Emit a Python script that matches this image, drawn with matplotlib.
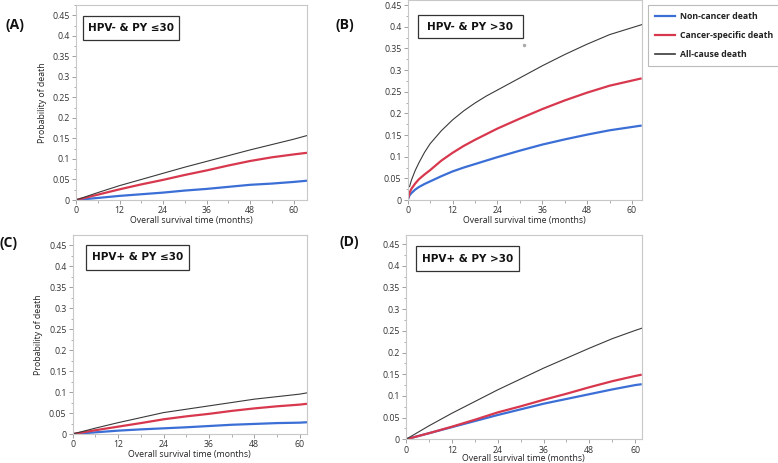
import numpy as np
import matplotlib.pyplot as plt
from matplotlib.lines import Line2D
from matplotlib.patches import Rectangle
from matplotlib.ticker import MultipleLocator, FuncFormatter

plt.rcParams['font.family'] = ['Open Sans', 'DejaVu Sans']

# ---- data ----
series_names = ['Non-cancer death', 'Cancer-specific death', 'All-cause death']

# (A) HPV- & PY <=30
a_months = [0, 6, 12, 18, 24, 30, 36, 42, 48, 54, 60, 63.7]
a_noncancer = [0, 0.005, 0.010, 0.014, 0.018, 0.023, 0.027, 0.032, 0.037, 0.040, 0.044, 0.047]
a_cancer = [0, 0.013, 0.026, 0.038, 0.049, 0.061, 0.072, 0.084, 0.095, 0.104, 0.111, 0.115]
a_allcause = [0, 0.018, 0.035, 0.050, 0.065, 0.080, 0.094, 0.108, 0.122, 0.135, 0.148, 0.157]

# (B) HPV- & PY >30
b_months = [0, 0.5, 1, 2, 3, 4.5, 6, 9, 12, 15, 18, 21, 24, 30, 36, 42, 48, 54, 62.6]
b_noncancer = [0, 0.011, 0.016, 0.024, 0.030, 0.037, 0.043, 0.055, 0.066, 0.075, 0.083,
               0.091, 0.099, 0.114, 0.128, 0.140, 0.151, 0.161, 0.172]
b_cancer = [0, 0.017, 0.026, 0.038, 0.048, 0.059, 0.069, 0.091, 0.109, 0.125, 0.139,
            0.152, 0.165, 0.188, 0.210, 0.230, 0.248, 0.264, 0.281]
b_all_months = [0.5, 1, 2, 3, 4.5, 6, 9, 12, 15, 18, 21, 24, 30, 36, 42, 48, 54, 62.6]
b_allcause = [0.031, 0.046, 0.068, 0.086, 0.110, 0.130, 0.160, 0.185, 0.206, 0.224,
              0.240, 0.254, 0.282, 0.310, 0.336, 0.360, 0.382, 0.405]

# (C) HPV+ & PY <=30
c_months = [0, 6, 12, 18, 24, 30, 36, 42, 48, 54, 60, 61.9]
c_noncancer = [0, 0.004, 0.008, 0.011, 0.0135, 0.016, 0.019, 0.022, 0.024, 0.026, 0.027, 0.028]
c_cancer = [0, 0.009, 0.0175, 0.026, 0.035, 0.042, 0.048, 0.055, 0.061, 0.066, 0.070, 0.072]
c_allcause = [0, 0.014, 0.027, 0.039, 0.051, 0.059, 0.067, 0.075, 0.083, 0.089, 0.095, 0.098]

# (D) HPV+ & PY >30
d_months = [0, 6, 12, 18, 24, 30, 36, 42, 48, 54, 60, 61.7]
d_noncancer = [0, 0.014, 0.028, 0.042, 0.056, 0.069, 0.082, 0.093, 0.104, 0.115, 0.125, 0.127]
d_cancer = [0, 0.014, 0.029, 0.045, 0.062, 0.076, 0.091, 0.105, 0.120, 0.134, 0.146, 0.149]
d_allcause = [0, 0.031, 0.060, 0.087, 0.114, 0.139, 0.164, 0.187, 0.210, 0.232, 0.251, 0.256]

panel_titles = ['HPV- & PY \u226430', 'HPV- & PY >30', 'HPV+ & PY \u226430', 'HPV+ & PY >30']
panel_tags = ['(A)', '(B)', '(C)', '(D)']

BLUE = '#3b6fd6'
RED = '#d8384e'
BLACK = '#3a3a3a'
W, H = 778, 463

fig = plt.figure(figsize=(W / 100, H / 100), dpi=100)


def px_axes(left, right, top, bottom):
    return fig.add_axes([left / W, 1 - bottom / H, (right - left) / W, (bottom - top) / H])


def fmt(v, pos):
    if abs(v) < 1e-9:
        return '0'
    return ('%.2f' % v).rstrip('0')


def style(ax, xmax, ymax, ylabel):
    ax.set_xlim(0, xmax)
    ax.set_ylim(0, ymax)
    ax.xaxis.set_major_locator(MultipleLocator(12))
    ax.xaxis.set_minor_locator(MultipleLocator(6))
    ax.yaxis.set_major_locator(MultipleLocator(0.05))
    ax.yaxis.set_minor_locator(MultipleLocator(0.025))
    ax.yaxis.set_major_formatter(FuncFormatter(fmt))
    ax.tick_params(which='both', direction='out', color='#909090', labelsize=6.3,
                   labelcolor='#333333', pad=1.5)
    ax.tick_params(which='major', length=3, width=0.6)
    ax.tick_params(which='minor', length=1.8, width=0.5)
    for s in ax.spines.values():
        s.set_color('#c8c8c8')
        s.set_linewidth(0.8)
    ax.set_xlabel('Overall survival time (months)', fontsize=6.3, color='#222222', labelpad=0.3)
    if ylabel:
        ax.set_ylabel('Probability of death', fontsize=6.3, color='#222222', labelpad=4)


def curves(ax, xs, nc, cs, xa, ac):
    ax.plot(xs, nc, color=BLUE, lw=1.6, solid_capstyle='butt')
    ax.plot(xs, cs, color=RED, lw=1.6, solid_capstyle='butt')
    ax.plot(xa, ac, color=BLACK, lw=0.8)


axA = px_axes(76, 307, 5, 200)
curves(axA, a_months, a_noncancer, a_cancer, a_months, a_allcause)
style(axA, 63.7, 0.475, True)

axB = px_axes(407.7, 641.7, 0, 200)
curves(axB, b_months, b_noncancer, b_cancer, b_all_months, b_allcause)
style(axB, 62.6, 0.462, False)
axB.plot([31], [0.358], marker='o', ms=1.5, color='#aaaaaa')

axC = px_axes(72.7, 307, 235, 434)
curves(axC, c_months, c_noncancer, c_cancer, c_months, c_allcause)
style(axC, 61.9, 0.474, True)

axD = px_axes(406, 641.7, 235, 439.3)
curves(axD, d_months, d_noncancer, d_cancer, d_months, d_allcause)
style(axD, 61.7, 0.471, False)
axD.xaxis.labelpad = -0.5

# title boxes (pixel: left, right, top, bottom)
boxes = [(83, 179, 16, 40), (417.7, 522.7, 15, 38), (86, 189, 245, 270), (416, 519, 246, 271)]
for (l, r, t, b), txt in zip(boxes, panel_titles):
    fig.patches.append(Rectangle((l / W, 1 - b / H), (r - l) / W, (b - t) / H,
                                 transform=fig.transFigure, fill=False,
                                 edgecolor='#333333', lw=0.9))
    fig.text((l + r) / 2 / W, 1 - (t + b) / 2 / H, txt, ha='center', va='center',
             fontsize=7.5, fontweight='bold', color='#111111',
             family=['DejaVu Sans'])

# panel tags
tag_pos = [(6, 25), (335, 25), (-1, 243), (339, 242)]
for (x, y), tag in zip(tag_pos, panel_tags):
    fig.text(x / W, 1 - y / H, tag, ha='left', va='center', fontsize=10,
             fontweight='bold', color='#111111')

# legend
handles = [Line2D([], [], color=BLUE, lw=1.6),
           Line2D([], [], color=RED, lw=1.6),
           Line2D([], [], color=BLACK, lw=1.2)]
leg = fig.legend(handles, series_names, loc='upper left', bbox_to_anchor=(648 / W, 1 - 5 / H),
                 frameon=True, fancybox=False, prop={'size': 6.3, 'weight': 'bold'},
                 handlelength=2.3, handletextpad=0.6, labelspacing=1.15, borderpad=0.8,
                 borderaxespad=0)
leg.get_frame().set_edgecolor('#aaaaaa')
leg.get_frame().set_linewidth(0.8)
for t in leg.get_texts():
    t.set_color('#222222')

fig.savefig('out.png', dpi=100)
